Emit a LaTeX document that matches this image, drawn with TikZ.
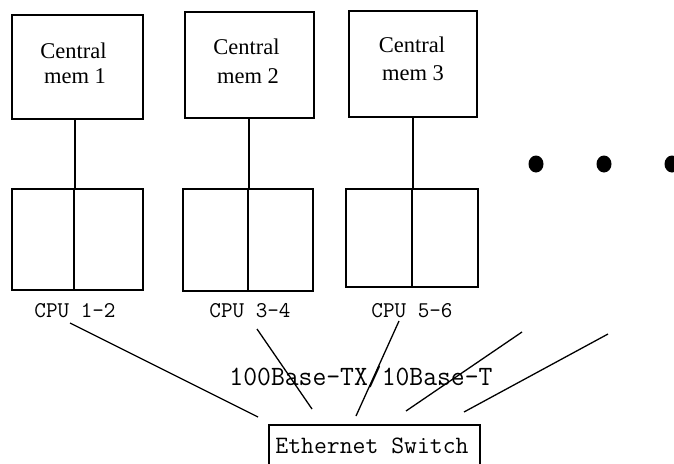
\documentclass[tikz,border=0pt]{standalone}
\usepackage{fontspec}
\usepackage{graphicx}
\usetikzlibrary{shapes.geometric}
\setmainfont{Liberation Serif}
% horizontally condensed text
\newcommand\squeeze[2]{\scalebox{#1}[1]{#2}}
\begin{document}
\begin{tikzpicture}[x=1pt,y=-1pt,
  membox/.style={draw, line width=1.6pt, inner sep=0pt},
  cpuhalf/.style={draw, line width=1.6pt, inner sep=0pt},
  memtext/.style={anchor=base, inner sep=0pt, font=\fontsize{22.5}{26}\selectfont},
  biglabel/.style={anchor=base, inner sep=0pt, font=\ttfamily\fontsize{#1}{#1}\selectfont},
  bus/.style={line width=1.6pt},
  link/.style={line width=1.3pt},
  dot/.style={ellipse, fill, inner sep=0pt, minimum width=15pt, minimum height=17pt}]
\useasboundingbox (0,0) rectangle (674,463);
\clip (0,0) rectangle (674,463);

% central memories
\node[membox, minimum width=131pt, minimum height=104pt] (m1) at (77.5,67) {};
\node[membox, minimum width=129pt, minimum height=106pt] (m2) at (249.5,65) {};
\node[membox, minimum width=128pt, minimum height=106pt] (m3) at (413,64) {};
\node[memtext] (m1a) at (73.5,58) {Central};
\node[memtext] (m1b) at (75,83) {mem 1};
\node[memtext] (m2a) at (246.5,54) {Central};
\node[memtext] (m2b) at (248,83) {mem 2};
\node[memtext] (m3a) at (412,52) {Central};
\node[memtext] (m3b) at (413,80) {mem 3};

% dual-CPU boards, each split into two halves
\node[cpuhalf, minimum width=62pt, minimum height=101pt] (cl1) at (43,239.5) {};
\node[cpuhalf, minimum width=69pt, minimum height=101pt] (cr1) at (108.5,239.5) {};
\node[cpuhalf, minimum width=65pt, minimum height=102pt] (cl2) at (215.5,240) {};
\node[cpuhalf, minimum width=65pt, minimum height=102pt] (cr2) at (280.5,240) {};
\node[cpuhalf, minimum width=66pt, minimum height=98pt] (cl3) at (379,238) {};
\node[cpuhalf, minimum width=66pt, minimum height=98pt] (cr3) at (445,238) {};

\node[biglabel=22.5] (p12) at (75,317) {CPU 1-2};
\node[biglabel=22.5] (p34) at (250,317) {CPU 3-4};
\node[biglabel=22.5] (p56) at (412,317) {CPU 5-6};

% memory-to-board buses
\draw[bus] (m1.south -| cl1.east) -- (cl1.north east);
\draw[bus] (m2.south -| cl2.east) -- (cl2.north east);
\draw[bus] (m3.south -| cl3.east) -- (cl3.north east);

% more nodes
\node[dot] (d1) at (536,164) {};
\node[dot] (d2) at (604,164) {};
\node[dot] (d3) at (672,164) {};

% switch
\node[membox, anchor=north, minimum width=211pt, minimum height=80pt] (sw) at (374.5,424) {};
\node[biglabel=25] (swt) at (372,453) {Ethernet Switch};
\node[biglabel=28] (net) at (361,385) {\squeeze{0.96}{100Base-TX/10Base-T}};

% network cables
\coordinate (a1) at (70,323);  \coordinate (b1) at (258,417);
\coordinate (a2) at (257,329); \coordinate (b2) at (312,409);
\coordinate (a3) at (399,321); \coordinate (b3) at (356,416);
\coordinate (a4) at (522,332); \coordinate (b4) at (406,411);
\coordinate (a5) at (608,334); \coordinate (b5) at (464,412);
\foreach \i in {1,...,5} \draw[link] (a\i) -- (b\i);
\end{tikzpicture}
\end{document}
